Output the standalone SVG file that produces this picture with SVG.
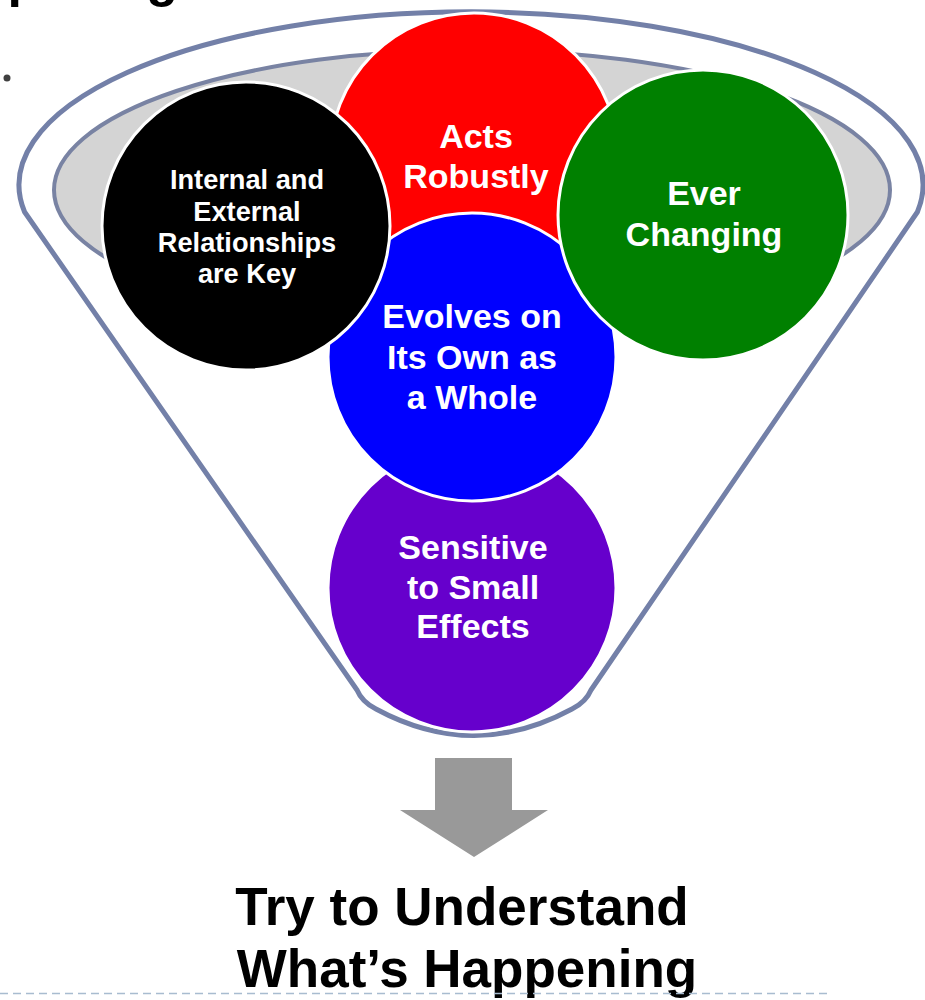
<svg xmlns="http://www.w3.org/2000/svg" width="925" height="1000" viewBox="0 0 925 1000">
<style>
.lbl{font-family:"Liberation Sans",Arial,sans-serif;font-weight:700;fill:#ffffff;text-anchor:middle}
.big{font-size:34px}
.small{font-size:27.2px}
.circ{stroke:#ffffff;stroke-width:3}
.title{font-family:"Liberation Sans",Arial,sans-serif;font-weight:700;fill:#000000;font-size:53px;text-anchor:middle}
.head{font-family:"Liberation Sans",Arial,sans-serif;font-weight:700;fill:#000000;font-size:52px;text-anchor:end}
</style>
<rect x="0" y="0" width="925" height="1000" fill="#ffffff"/>
<text class="head" x="178" y="-4">Happening</text>
<circle cx="7" cy="78" r="3.5" fill="#404040"/>
<g id="funnel">
<path d="M 24.6,212 A 452 173 0 1 1 917.4,212 L 591,690 Q 586,702 572,709 Q 474,762 376,709 Q 362,702 357,690 Z" fill="#ffffff" stroke="#7380a8" stroke-width="5"/>
<ellipse cx="472" cy="190" rx="418" ry="140" fill="#d4d4d4" stroke="#7983a3" stroke-width="4"/>
</g>
<g id="node-red">
<circle class="circ" cx="474" cy="157" r="144" fill="#ff0000"/>
<text class="lbl big" x="476" y="148">Acts</text>
<text class="lbl big" x="476" y="188">Robustly</text>
</g>
<g id="node-purple">
<circle class="circ" cx="472" cy="588" r="144" fill="#6600cc"/>
<text class="lbl big" x="473" y="559">Sensitive</text>
<text class="lbl big" x="473" y="599">to Small</text>
<text class="lbl big" x="473" y="638">Effects</text>
</g>
<g id="node-blue">
<circle class="circ" cx="472" cy="357" r="144" fill="#0000ff"/>
<text class="lbl big" x="472" y="328">Evolves on</text>
<text class="lbl big" x="472" y="369">Its Own as</text>
<text class="lbl big" x="472" y="409">a Whole</text>
</g>
<g id="node-black">
<circle class="circ" cx="246" cy="226" r="144" fill="#000000"/>
<text class="lbl small" x="247" y="189">Internal and</text>
<text class="lbl small" x="247" y="221">External</text>
<text class="lbl small" x="247" y="252">Relationships</text>
<text class="lbl small" x="247" y="283">are Key</text>
</g>
<g id="node-green">
<circle class="circ" cx="703" cy="215" r="145" fill="#008000"/>
<text class="lbl big" x="704" y="205">Ever</text>
<text class="lbl big" x="704" y="246">Changing</text>
</g>
<g id="connectors">
<path d="M 435,758 L 512,758 L 512,810 L 548,810 L 474,857 L 400,810 L 435,810 Z" fill="#999999"/>
</g>
<g id="result">
<text class="title" x="462" y="925">Try to Understand</text>
<text class="title" x="467" y="987">What’s Happening</text>
</g>
<line x1="0" y1="993.5" x2="832" y2="993.5" stroke="#a8bcd0" stroke-width="1.5" stroke-dasharray="8 5"/>
</svg>
